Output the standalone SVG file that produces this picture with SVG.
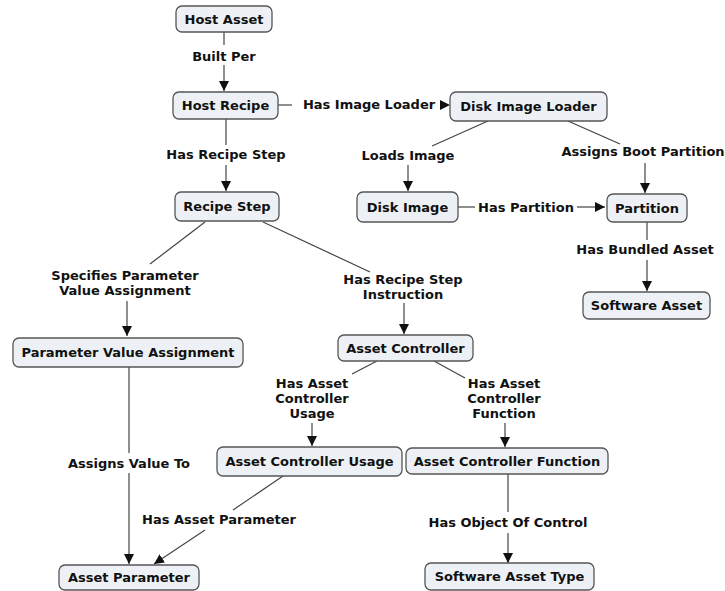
<svg xmlns="http://www.w3.org/2000/svg" width="725" height="591" viewBox="0 0 725 591">
<defs>
<style>
.n rect{fill:#edf1f5;stroke:#555;stroke-width:1.3}
text{font-family:"DejaVu Sans",Verdana,sans-serif;font-weight:bold;font-size:13px;fill:#111;text-anchor:middle}
.c line{stroke:#444;stroke-width:1.2}
</style>
<marker id="ah" viewBox="0 0 10 10" refX="10" refY="5" markerWidth="10" markerHeight="10" markerUnits="userSpaceOnUse" orient="auto"><path d="M0,0 L10,5 L0,10 z" fill="#111"/></marker>
</defs>
<rect width="725" height="591" fill="#fff"/>
<g id="connectors" class="c">
<line x1="224" y1="31" x2="224" y2="45"/>
<line x1="224" y1="65" x2="224" y2="91" marker-end="url(#ah)"/>
<line x1="278" y1="105" x2="292" y2="105"/>
<line x1="226" y1="118" x2="226" y2="145"/>
<line x1="226" y1="165" x2="226" y2="191" marker-end="url(#ah)"/>
<line x1="488" y1="121" x2="432" y2="146"/>
<line x1="408" y1="165" x2="408" y2="191" marker-end="url(#ah)"/>
<line x1="568" y1="121" x2="620" y2="144"/>
<line x1="645" y1="163" x2="645" y2="193" marker-end="url(#ah)"/>
<line x1="458" y1="207" x2="475" y2="207"/>
<line x1="577" y1="207" x2="605" y2="207" marker-end="url(#ah)"/>
<line x1="647" y1="222" x2="647" y2="240"/>
<line x1="647" y1="260" x2="647" y2="291" marker-end="url(#ah)"/>
<line x1="205" y1="222" x2="150" y2="264"/>
<line x1="127" y1="301" x2="127" y2="336" marker-end="url(#ah)"/>
<line x1="263" y1="222" x2="370" y2="272"/>
<line x1="404" y1="303" x2="404" y2="334" marker-end="url(#ah)"/>
<line x1="129" y1="367" x2="129" y2="453"/>
<line x1="129" y1="473" x2="129" y2="564" marker-end="url(#ah)"/>
<line x1="377" y1="361" x2="352" y2="374"/>
<line x1="312" y1="423" x2="312" y2="446" marker-end="url(#ah)"/>
<line x1="434" y1="361" x2="465" y2="378"/>
<line x1="505" y1="423" x2="505" y2="447" marker-end="url(#ah)"/>
<line x1="283" y1="476" x2="233" y2="510"/>
<line x1="205" y1="530" x2="154" y2="564" marker-end="url(#ah)"/>
<line x1="508" y1="474" x2="508" y2="512"/>
<line x1="508" y1="533" x2="508" y2="563" marker-end="url(#ah)"/>
<path d="M440,100 L450,105 L440,110 z" fill="#111"/>
</g>
<g id="labels">
<text x="224" y="61">Built Per</text>
<text x="369" y="109">Has Image Loader</text>
<text x="226" y="159">Has Recipe Step</text>
<text x="408" y="160">Loads Image</text>
<text x="643" y="156">Assigns Boot Partition</text>
<text x="526" y="212">Has Partition</text>
<text x="645" y="254">Has Bundled Asset</text>
<text x="125" y="280">Specifies Parameter</text>
<text x="125" y="295">Value Assignment</text>
<text x="403" y="284">Has Recipe Step</text>
<text x="403" y="299">Instruction</text>
<text x="312" y="388">Has Asset</text>
<text x="312" y="403">Controller</text>
<text x="312" y="418">Usage</text>
<text x="504" y="388">Has Asset</text>
<text x="504" y="403">Controller</text>
<text x="504" y="418">Function</text>
<text x="508" y="527">Has Object Of Control</text>
<text x="129" y="468">Assigns Value To</text>
<text x="219" y="524">Has Asset Parameter</text>
</g>
<g id="host-asset" class="n"><rect x="176" y="6" width="96" height="26" rx="6"/><text x="224" y="23.5">Host Asset</text></g>
<g id="host-recipe" class="n"><rect x="173" y="92" width="105" height="27" rx="6"/><text x="225.5" y="110">Host Recipe</text></g>
<g id="disk-image-loader" class="n"><rect x="450" y="92" width="157" height="29" rx="6"/><text x="528.5" y="111">Disk Image Loader</text></g>
<g id="recipe-step" class="n"><rect x="175" y="192" width="104" height="29" rx="6"/><text x="227" y="211">Recipe Step</text></g>
<g id="disk-image" class="n"><rect x="357" y="192" width="101" height="30" rx="6"/><text x="407.5" y="211.5">Disk Image</text></g>
<g id="partition" class="n"><rect x="607" y="194" width="80" height="28" rx="6"/><text x="647" y="212.5">Partition</text></g>
<g id="software-asset" class="n"><rect x="583" y="292" width="127" height="27" rx="6"/><text x="646.5" y="310">Software Asset</text></g>
<g id="parameter-value-assignment" class="n"><rect x="13" y="338" width="230" height="29" rx="6"/><text x="128" y="357">Parameter Value Assignment</text></g>
<g id="asset-controller" class="n"><rect x="338" y="335" width="135" height="26" rx="6"/><text x="405.5" y="352.5">Asset Controller</text></g>
<g id="asset-controller-usage" class="n"><rect x="217" y="447" width="185" height="29" rx="6"/><text x="309.5" y="466">Asset Controller Usage</text></g>
<g id="asset-controller-function" class="n"><rect x="406" y="448" width="202" height="26" rx="6"/><text x="507" y="465.5">Asset Controller Function</text></g>
<g id="asset-parameter" class="n"><rect x="59" y="565" width="140" height="25" rx="6"/><text x="129" y="582">Asset Parameter</text></g>
<g id="software-asset-type" class="n"><rect x="425" y="563" width="169" height="27" rx="6"/><text x="509.5" y="581">Software Asset Type</text></g>
</svg>
